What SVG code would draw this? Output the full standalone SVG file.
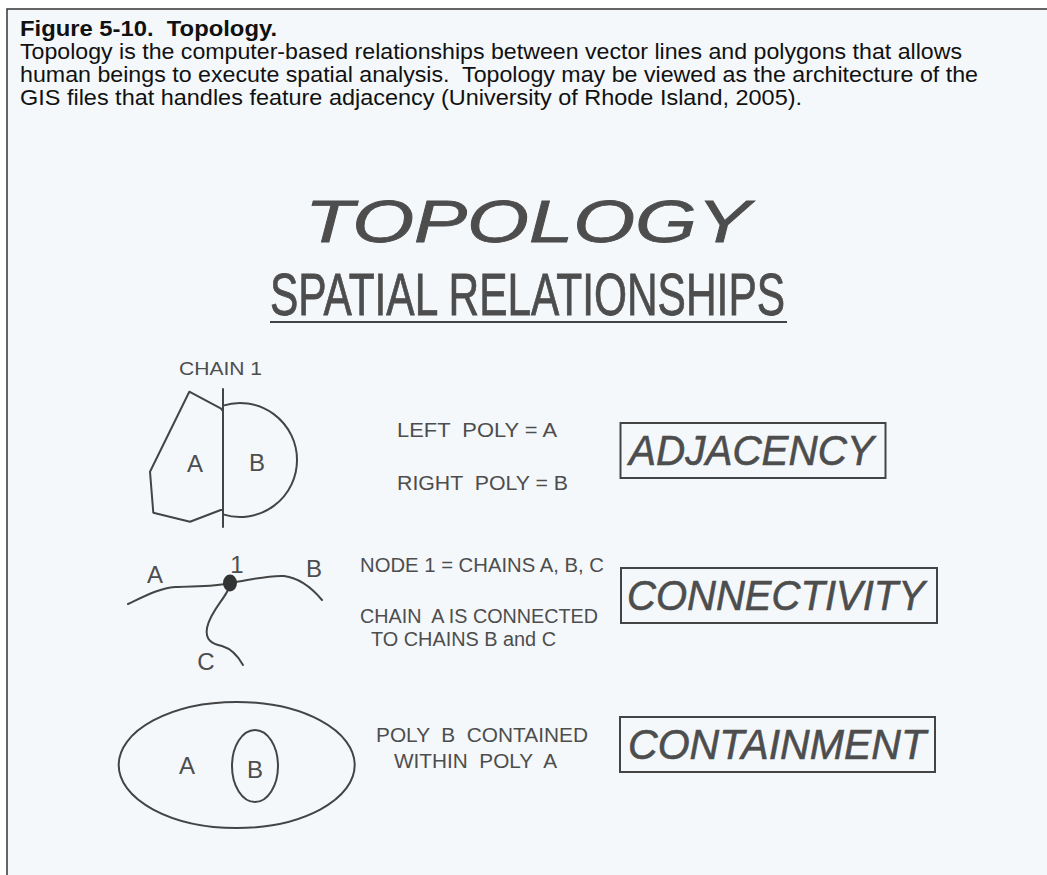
<svg xmlns="http://www.w3.org/2000/svg" width="1047" height="875" viewBox="0 0 1047 875">
<style>
text{white-space:pre}
.hdr{font-family:"Liberation Sans",Arial,sans-serif;font-size:22px;fill:#111}
.b{font-weight:bold}
.t{font-family:"Liberation Sans",Arial,sans-serif;fill:#4d4d4d}
.lbl{font-size:24px}
.desc{font-size:20px}
.big{font-size:42px;font-style:italic;stroke:#4d4d4d;stroke-width:0.6}
.ttl{stroke:#4d4d4d;stroke-width:0.8}
.ln{fill:none;stroke:#444;stroke-width:2;stroke-linecap:round;stroke-linejoin:round}
.box{fill:none;stroke:#444;stroke-width:2}
</style>
<rect x="0" y="0" width="1047" height="875" fill="#ffffff"/>
<rect x="7" y="9" width="1045" height="870" fill="#f4f8fb" stroke="#333" stroke-width="1.5"/>
<g id="header">
<text class="hdr b" x="20" y="36" textLength="257" lengthAdjust="spacingAndGlyphs">Figure 5-10.  Topology.</text>
<text class="hdr" x="20" y="59" textLength="942" lengthAdjust="spacingAndGlyphs">Topology is the computer-based relationships between vector lines and polygons that allows</text>
<text class="hdr" x="20" y="82" textLength="958" lengthAdjust="spacingAndGlyphs">human beings to execute spatial analysis.  Topology may be viewed as the architecture of the</text>
<text class="hdr" x="20" y="105" textLength="782" lengthAdjust="spacingAndGlyphs">GIS files that handles feature adjacency (University of Rhode Island, 2005).</text>
</g>
<g id="title">
<text class="t ttl" x="305" y="242" font-size="60" font-style="italic" textLength="445" lengthAdjust="spacingAndGlyphs">TOPOLOGY</text>
<text class="t ttl" x="270" y="315" font-size="60" textLength="515" lengthAdjust="spacingAndGlyphs">SPATIAL RELATIONSHIPS</text>
<line x1="270" y1="322" x2="787" y2="322" stroke="#444" stroke-width="2"/>
</g>
<g id="adjacency-figure">
<text class="t" x="179" y="375" font-size="18" textLength="83" lengthAdjust="spacingAndGlyphs">CHAIN 1</text>
<path class="ln" d="M223,411 L220.7,408.3 L189.3,391.7 L150,471.7 L153.3,512.7 L190,521.7 L220.7,510 L223,510"/>
<path class="ln" d="M223,405.6 A57,57 0 1 1 223,514.4"/>
<line class="ln" x1="223" y1="389" x2="223" y2="527"/>
<text class="t lbl" x="195" y="472" text-anchor="middle">A</text>
<text class="t lbl" x="257" y="471" text-anchor="middle">B</text>
</g>
<g id="adjacency-text">
<text class="t desc" x="397" y="437" textLength="160" lengthAdjust="spacingAndGlyphs">LEFT  POLY = A</text>
<text class="t desc" x="397" y="490" textLength="171" lengthAdjust="spacingAndGlyphs">RIGHT  POLY = B</text>
</g>
<g id="adjacency">
<rect class="box" x="620.5" y="423" width="265" height="55"/>
<text class="t big" x="629" y="465" textLength="245" lengthAdjust="spacingAndGlyphs">ADJACENCY</text>
</g>
<g id="connectivity-figure">
<text class="t lbl" x="155" y="583" text-anchor="middle">A</text>
<text class="t lbl" x="237" y="573" text-anchor="middle">1</text>
<text class="t lbl" x="314" y="577" text-anchor="middle">B</text>
<text class="t lbl" x="206" y="670" text-anchor="middle">C</text>
</g>
<g id="connectors">
<path class="ln" d="M128,604 C145,596 160,588 175,587 C195,586 215,587 230,583"/>
<path class="ln" d="M230,583 C250,580 268,575 284,576 C300,578 312,588 322,600"/>
<path class="ln" d="M229,588 C224,600 210,612 207,628 C205,640 212,644 222,646 C232,649 238,656 243,665"/>
<ellipse cx="230" cy="583" rx="7" ry="8.5" fill="#333"/>
</g>
<g id="connectivity-text">
<text class="t desc" x="360" y="572" textLength="244" lengthAdjust="spacingAndGlyphs">NODE 1 = CHAINS A, B, C</text>
<text class="t desc" x="360" y="623" textLength="238" lengthAdjust="spacingAndGlyphs">CHAIN  A IS CONNECTED</text>
<text class="t desc" x="371" y="646" textLength="185" lengthAdjust="spacingAndGlyphs">TO CHAINS B and C</text>
</g>
<g id="connectivity">
<rect class="box" x="621" y="568" width="316" height="55"/>
<text class="t big" x="627" y="610" textLength="298" lengthAdjust="spacingAndGlyphs">CONNECTIVITY</text>
</g>
<g id="containment-figure">
<ellipse class="ln" cx="236.7" cy="765" rx="118" ry="63"/>
<ellipse class="ln" cx="255" cy="766" rx="23" ry="36"/>
<text class="t lbl" x="187" y="774" text-anchor="middle">A</text>
<text class="t lbl" x="255" y="778" text-anchor="middle">B</text>
</g>
<g id="containment-text">
<text class="t desc" x="376" y="742" textLength="212" lengthAdjust="spacingAndGlyphs">POLY  B  CONTAINED</text>
<text class="t desc" x="394" y="768" textLength="163" lengthAdjust="spacingAndGlyphs">WITHIN  POLY  A</text>
</g>
<g id="containment">
<rect class="box" x="620" y="717" width="315" height="55"/>
<text class="t big" x="628" y="759" textLength="298" lengthAdjust="spacingAndGlyphs">CONTAINMENT</text>
</g>
</svg>
